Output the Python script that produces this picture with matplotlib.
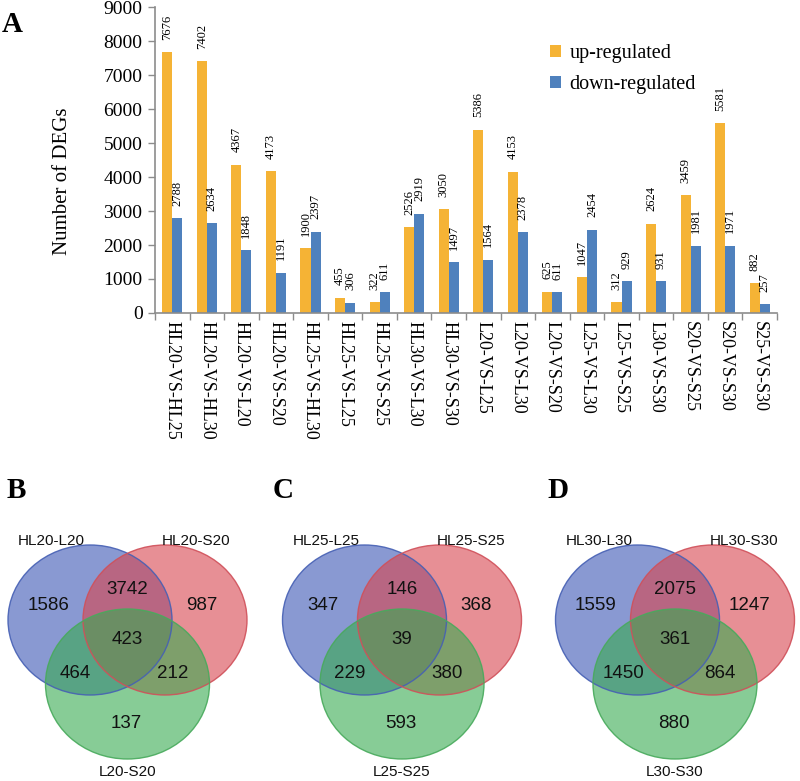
import matplotlib
matplotlib.use("Agg")
import matplotlib.pyplot as plt
from matplotlib.patches import Ellipse

# ---------------- data ----------------
categories = ["HL20-VS-HL25", "HL20-VS-HL30", "HL20-VS-L20", "HL20-VS-S20",
              "HL25-VS-HL30", "HL25-VS-L25", "HL25-VS-S25", "HL30-VS-L30",
              "HL30-VS-S30", "L20-VS-L25", "L20-VS-L30", "L20-VS-S20",
              "L25-VS-L30", "L25-VS-S25", "L30-VS-S30", "S20-VS-S25",
              "S20-VS-S30", "S25-VS-S30"]
up_regulated = [7676, 7402, 4367, 4173, 1900, 455, 322, 2526, 3050,
                5386, 4153, 625, 1047, 312, 2624, 3459, 5581, 882]
down_regulated = [2788, 2634, 1848, 1191, 2397, 306, 611, 2919, 1497,
                  1564, 2378, 611, 2454, 929, 931, 1981, 1971, 257]
yticks = [0, 1000, 2000, 3000, 4000, 5000, 6000, 7000, 8000, 9000]

venn_B_sets = ["HL20-L20", "HL20-S20", "L20-S20"]
# order: only1, only2, only3, 1&2, 1&3, 2&3, 1&2&3
venn_B_counts = [1586, 987, 137, 3742, 464, 212, 423]
venn_C_sets = ["HL25-L25", "HL25-S25", "L25-S25"]
venn_C_counts = [347, 368, 593, 146, 229, 380, 39]
venn_D_sets = ["HL30-L30", "HL30-S30", "L30-S30"]
venn_D_counts = [1559, 1247, 880, 2075, 1450, 864, 361]

# ---------------- style ----------------
serif = ["Liberation Serif", "DejaVu Serif"]
sans = ["Liberation Sans", "DejaVu Sans"]
orange = "#F5B335"
blue = "#4F81BD"
spine_gray = "#8C8C8C"

fig = plt.figure(figsize=(8, 7.81), dpi=100)

# ---------------- panel A ----------------
W, H = 800, 781
ax = fig.add_axes([155 / W, 1 - 313 / H, 622 / W, 306 / H])
x = list(range(len(categories)))
bw = 0.29
ax.bar([i - bw / 2 for i in x], up_regulated, width=bw, color=orange,
       label="up-regulated", zorder=2)
ax.bar([i + bw / 2 for i in x], down_regulated, width=bw, color=blue,
       label="down-regulated", zorder=2)

for i in x:
    ax.annotate(str(up_regulated[i]), (i - bw / 2, up_regulated[i]),
                xytext=(0, 9), textcoords="offset points", rotation=90,
                ha="center", va="bottom", fontsize=9, family=serif)
    ax.annotate(str(down_regulated[i]), (i + bw / 2, down_regulated[i]),
                xytext=(0, 9), textcoords="offset points", rotation=90,
                ha="center", va="bottom", fontsize=9, family=serif)

ax.set_xlim(-0.5, len(categories) - 0.5)
ax.set_ylim(0, 9000)
ax.set_yticks(yticks)
ax.set_yticklabels([str(v) for v in yticks], family=serif, fontsize=14)
ax.set_xticks(x)
ax.set_xticklabels(categories, rotation=270, family=serif, fontsize=13,
                   ha="center", va="top")
ax.set_xticks([i - 0.5 for i in range(len(categories) + 1)], minor=True)
ax.tick_params(axis="x", which="major", length=0, pad=6)
ax.tick_params(axis="x", which="minor", length=5, color=spine_gray, width=1)
ax.tick_params(axis="y", length=5, color=spine_gray, width=1, pad=4)
for s in ["top", "right"]:
    ax.spines[s].set_visible(False)
for s in ["left", "bottom"]:
    ax.spines[s].set_color(spine_gray)
    ax.spines[s].set_linewidth(1.2)
ax.set_ylabel("Number of DEGs", family=serif, fontsize=15,
              va="center", ha="center")
ax.yaxis.set_label_coords(-0.148, 0.43)

leg = ax.legend(loc="upper left", bbox_to_anchor=(532 / W, 1 - 26 / H),
                bbox_transform=fig.transFigure, frameon=False,
                prop={"family": serif, "size": 14.5}, handlelength=0.55,
                handleheight=0.55, handletextpad=0.4, labelspacing=0.6)

fig.text(2 / W, 1 - 24 / H, "A", family=serif, fontsize=21,
         fontweight="bold", va="center", ha="left")

# ---------------- panels B, C, D (Venn) ----------------
vax = fig.add_axes([0, 0, 1, 1], zorder=-1)
vax.set_xlim(0, W)
vax.set_ylim(H, 0)
vax.axis("off")

fills = [("#3A55B4", "#4660B4"), ("#D8454E", "#D0505A"), ("#38AA50", "#48AA5C")]
ew, eh = 164, 150


def draw_venn(cx, sets, counts):
    cy = 620
    centers = [(cx - 37.5, cy), (cx + 37.5, cy), (cx, cy + 64)]
    for (ex, ey), (fc, ec) in zip(centers, fills):
        vax.add_patch(Ellipse((ex, ey), ew, eh, facecolor=fc, alpha=0.6,
                              edgecolor="none"))
    for (ex, ey), (fc, ec) in zip(centers, fills):
        vax.add_patch(Ellipse((ex, ey), ew, eh, facecolor="none",
                              edgecolor=ec, lw=1.0, alpha=0.9))
    offs = [(-79, -15), (74, -15), (-1, 103), (0, -30), (-52, 54), (45, 54),
            (0, 20)]
    for (dx, dy), c in zip(offs, counts):
        vax.text(cx + dx, cy + dy, str(c), family=sans, fontsize=13.5,
                 ha="center", va="center", color="#111111")
    lab_offs = [(-76, -79), (69, -79), (0, 152)]
    for (dx, dy), s in zip(lab_offs, sets):
        vax.text(cx + dx, cy + dy, s, family=sans, fontsize=11,
                 ha="center", va="center", color="#111111")


draw_venn(127.5, venn_B_sets, venn_B_counts)
draw_venn(402, venn_C_sets, venn_C_counts)
draw_venn(675, venn_D_sets, venn_D_counts)

for lx, letter in [(7, "B"), (273, "C"), (547, "D")]:
    vax.text(lx, 490, letter, family=serif, fontsize=21, fontweight="bold",
             ha="left", va="center")

fig.savefig("out.png", dpi=100)
